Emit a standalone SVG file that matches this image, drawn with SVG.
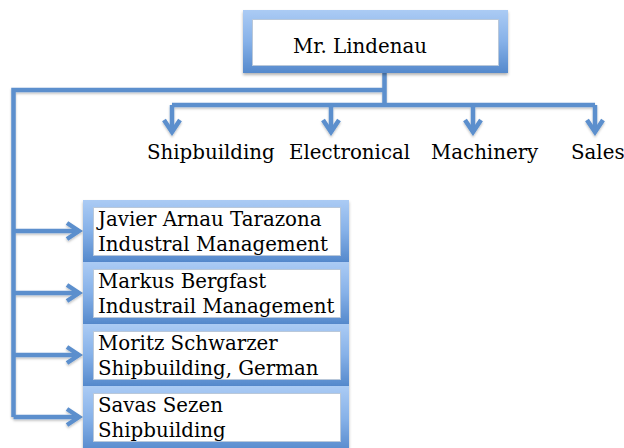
<svg xmlns="http://www.w3.org/2000/svg" width="624" height="448" viewBox="0 0 624 448">
<style>
.outer{fill:url(#frame);filter:url(#sh);}
.inner{fill:#ffffff;stroke:#b9c8da;stroke-width:1;}
.conn{fill:none;stroke:#5b8fcd;stroke-width:4.5;stroke-linecap:butt;stroke-linejoin:miter;}
.lbl{font-family:"DejaVu Serif","Liberation Serif",serif;font-size:19.8px;fill:#000;}
</style>
<defs>
<linearGradient id="frame" x1="0" y1="0" x2="0" y2="1">
<stop offset="0" stop-color="#abcbf4"/>
<stop offset="0.5" stop-color="#86b1e8"/>
<stop offset="1" stop-color="#5589cc"/>
</linearGradient>
<filter id="sh" x="-10%" y="-10%" width="120%" height="130%">
<feDropShadow dx="0" dy="2" stdDeviation="1.5" flood-color="#000" flood-opacity="0.3"/>
</filter>
<filter id="lsh" x="-5%" y="-5%" width="110%" height="110%">
<feDropShadow dx="0" dy="1.5" stdDeviation="1" flood-color="#000" flood-opacity="0.25"/>
</filter>
<marker id="arr" viewBox="-16 -12 20 24" refX="0" refY="0" markerWidth="20" markerHeight="24" markerUnits="userSpaceOnUse" orient="auto">
<path d="M-12,-8 L0,0 L-12,8" fill="none" stroke="#5b8fcd" stroke-width="4.5"/>
</marker>
</defs>

<g id="connectors" filter="url(#lsh)">
<path class="conn" d="M384.5,73 V105"/>
<path class="conn" d="M384.5,90 H13.5 V417"/>
<path class="conn" d="M172,105 H595"/>
<path class="conn" d="M172,105 V132" marker-end="url(#arr)"/>
<path class="conn" d="M331,105 V132" marker-end="url(#arr)"/>
<path class="conn" d="M473,105 V132" marker-end="url(#arr)"/>
<path class="conn" d="M595,105 V132" marker-end="url(#arr)"/>
<path class="conn" d="M13.5,231 H79" marker-end="url(#arr)"/>
<path class="conn" d="M13.5,293 H79" marker-end="url(#arr)"/>
<path class="conn" d="M13.5,355 H79" marker-end="url(#arr)"/>
<path class="conn" d="M13.5,417 H79" marker-end="url(#arr)"/>
</g>

<g id="lindenau">
<rect class="outer" x="243" y="10" width="265" height="63"/>
<rect class="inner" x="252.5" y="19.5" width="246" height="46"/>
<text class="lbl" x="293" y="53">Mr. Lindenau</text>
</g>

<g id="dept-shipbuilding"><text class="lbl" x="147" y="159">Shipbuilding</text></g>
<g id="dept-electronical"><text class="lbl" x="289" y="159">Electronical</text></g>
<g id="dept-machinery"><text class="lbl" x="431" y="159">Machinery</text></g>
<g id="dept-sales"><text class="lbl" x="571" y="159">Sales</text></g>

<g id="tarazona">
<rect class="outer" x="83" y="200" width="266" height="62"/>
<rect class="inner" x="93.5" y="207.5" width="247" height="48"/>
<text class="lbl" x="98" y="226">Javier Arnau Tarazona</text>
<text class="lbl" x="98" y="251">Industral Management</text>
</g>

<g id="bergfast">
<rect class="outer" x="83" y="262" width="266" height="62"/>
<rect class="inner" x="93.5" y="269.5" width="247" height="48"/>
<text class="lbl" x="98" y="288">Markus Bergfast</text>
<text class="lbl" x="98" y="313">Industrail Management</text>
</g>

<g id="schwarzer">
<rect class="outer" x="83" y="324" width="266" height="62"/>
<rect class="inner" x="93.5" y="331.5" width="247" height="48"/>
<text class="lbl" x="98" y="350">Moritz Schwarzer</text>
<text class="lbl" x="98" y="375">Shipbuilding, German</text>
</g>

<g id="sezen">
<rect class="outer" x="83" y="386" width="266" height="66"/>
<rect class="inner" x="93.5" y="393.5" width="247" height="48"/>
<text class="lbl" x="98" y="412">Savas Sezen</text>
<text class="lbl" x="98" y="437">Shipbuilding</text>
</g>
</svg>
